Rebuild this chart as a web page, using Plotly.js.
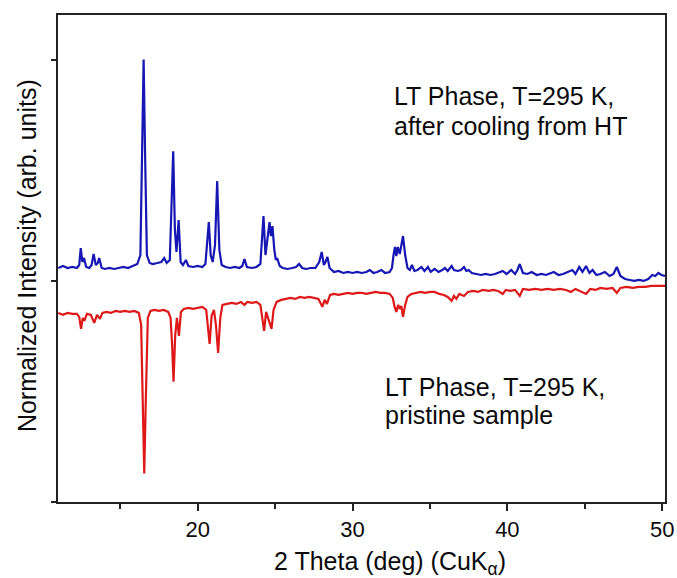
<!DOCTYPE html>
<html>
<head>
<meta charset="utf-8">
<script src="https://cdn.plot.ly/plotly-3.0.1.min.js"></script>
<style>html,body{margin:0;padding:0;background:#fff;}#chart{width:677px;height:578px;}</style>
</head>
<body>
<div id="chart"></div>
<script>
// 2 Theta (deg) sample points and intensities (arb. units)
const blueTheta = [11.0,11.3,11.6,11.9,12.2,12.35,12.45,12.55,12.66,12.8,13.0,13.15,13.28,13.42,13.55,13.64,13.8,14.0,14.3,14.6,14.9,15.2,15.5,15.8,16.1,16.3,16.42,16.51,16.6,16.72,16.9,17.1,17.4,17.65,17.84,18.0,18.2,18.33,18.42,18.53,18.63,18.77,18.9,19.05,19.24,19.4,19.7,20.0,20.3,20.5,20.62,20.72,20.84,20.97,21.12,21.26,21.4,21.55,21.8,22.1,22.4,22.7,22.88,23.02,23.18,23.5,23.8,24.05,24.15,24.25,24.38,24.5,24.64,24.73,24.83,24.95,25.05,25.13,25.3,25.5,25.8,26.1,26.35,26.55,26.75,27.0,27.3,27.6,27.85,28.01,28.15,28.25,28.38,28.52,28.8,29.1,29.4,29.7,30.0,30.3,30.6,30.9,31.11,31.35,31.6,31.86,32.1,32.4,32.55,32.65,32.74,32.83,32.92,33.05,33.16,33.26,33.4,33.55,33.7,33.84,34.0,34.2,34.45,34.65,34.87,35.05,35.3,35.55,35.8,35.97,36.15,36.3,36.4,36.55,36.8,37.0,37.2,37.35,37.5,37.7,38.0,38.3,38.6,38.9,39.2,39.5,39.7,39.95,40.25,40.5,40.65,40.8,41.0,41.3,41.57,41.9,42.2,42.5,42.8,43.0,43.3,43.6,43.9,44.2,44.4,44.64,44.85,45.08,45.3,45.5,45.75,46.0,46.3,46.6,46.85,47.07,47.3,47.6,47.9,48.2,48.5,48.8,49.1,49.35,49.55,49.75,49.95,50.18];
const blueIntensity = [13,15,13,14,13,16,33,19,23,14,13,16,27,16,18,23,13,12,13,12,13,14,13,15,17,26,131,222,131,26,18,17,18,19,23,18,21,81,130,51,29,61,19,16,21,15,14,15,14,17,41,59,26,19,36,100,31,16,14,13,14,13,15,22,14,13,14,17,41,65,26,43,59,45,55,31,21,23,15,13,12,13,14,17,13,12,13,13,19,29,16,19,24,13,9,10,8,9,8,9,8,9,11,8,9,11,8,9,13,26,34,25,34,27,36,45,26,13,11,16,10,11,14,10,14,9,12,9,11,13,10,13,15,11,10,11,14,10,11,8,7,6,7,6,7,9,10,7,11,7,11,17,8,7,9,6,7,6,8,9,6,7,9,11,7,14,9,15,8,11,6,7,9,5,7,14,5,2,1,0,1,0,2,6,5,8,6,5];

const redTheta = [11.0,11.3,11.6,11.9,12.2,12.35,12.47,12.58,12.68,12.85,13.1,13.32,13.5,13.69,13.85,14.1,14.4,14.7,15.0,15.3,15.6,15.9,16.2,16.35,16.45,16.55,16.65,16.78,16.95,17.2,17.5,17.8,18.1,18.25,18.35,18.44,18.55,18.66,18.79,18.92,19.1,19.4,19.7,20.0,20.3,20.55,20.66,20.77,20.9,21.05,21.18,21.32,21.46,21.6,21.9,22.2,22.5,22.8,23.02,23.2,23.5,23.8,24.05,24.17,24.29,24.42,24.6,24.77,24.9,25.1,25.4,25.7,26.0,26.3,26.6,26.9,27.2,27.5,27.8,27.93,28.05,28.2,28.35,28.55,28.8,29.1,29.4,29.7,30.0,30.3,30.6,30.9,31.2,31.5,31.8,32.1,32.4,32.6,32.72,32.83,32.95,33.05,33.15,33.26,33.4,33.55,33.8,34.1,34.4,34.7,35.0,35.3,35.6,35.9,36.15,36.4,36.55,36.7,36.9,37.2,37.45,37.8,38.1,38.4,38.8,39.1,39.4,39.7,39.9,40.2,40.5,40.8,41.0,41.4,41.8,42.2,42.6,43.0,43.4,43.8,44.1,44.4,44.7,45.08,45.35,45.7,46.0,46.4,46.8,47.07,47.3,47.7,48.1,48.5,48.9,49.3,49.7,50.18];
const redIntensity = [-32,-34,-32,-33,-33,-36,-48,-37,-40,-33,-34,-42,-34,-38,-32,-31,-32,-30,-31,-30,-31,-30,-32,-44,-119,-193,-119,-37,-30,-29,-30,-29,-31,-37,-64,-101,-54,-37,-55,-31,-28,-27,-28,-27,-26,-29,-49,-63,-35,-29,-44,-72,-37,-24,-23,-22,-23,-21,-24,-21,-22,-21,-24,-37,-50,-31,-39,-48,-29,-21,-19,-18,-17,-18,-16,-17,-16,-17,-18,-22,-26,-19,-23,-14,-13,-14,-13,-12,-13,-12,-12,-13,-12,-11,-12,-12,-13,-17,-26,-31,-24,-28,-25,-36,-24,-16,-13,-12,-11,-12,-11,-11,-13,-14,-16,-20,-15,-18,-13,-15,-11,-10,-11,-9,-10,-9,-10,-13,-9,-10,-9,-15,-8,-9,-8,-9,-8,-9,-8,-9,-11,-8,-10,-13,-8,-9,-7,-8,-7,-12,-7,-6,-7,-6,-6,-5,-5,-5];

const xTickVals = [20,30,40,50];
const xTickText = ['20','30','40','50'];
const xMinorTicks = [15,25,35,45];
const labelTop = ['LT Phase, T=295 K,', 'after cooling from HT'];
const labelBottom = ['LT Phase, T=295 K,', 'pristine sample'];

const FONT = 'Liberation Sans, Arial, sans-serif';

const traces = [
  {x: blueTheta, y: blueIntensity, type: 'scatter', mode: 'lines',
   line: {color: '#1616b4', width: 2.2}, hoverinfo: 'skip', showlegend: false},
  {x: redTheta, y: redIntensity, type: 'scatter', mode: 'lines',
   line: {color: '#de1818', width: 2.2}, hoverinfo: 'skip', showlegend: false}
];

const ann = [];
function addText(t, x, y, opts) {
  ann.push(Object.assign({text: t, xref: 'paper', yref: 'paper', x: x, y: y,
    xanchor: 'left', yanchor: 'middle', showarrow: false,
    font: {family: FONT, size: 25, color: '#0a0a0a'}}, opts || {}));
}
addText(labelTop[0], 0.550, 0.834);
addText(labelTop[1], 0.550, 0.772);
addText(labelBottom[0], 0.536, 0.237);
addText(labelBottom[1], 0.536, 0.179);
// axis titles
addText('2 Theta (deg) (CuK<sub>α</sub>)', 0.547, -0.125, {xanchor: 'center', yanchor: 'middle', font: {family: FONT, size: 25, color: '#0a0a0a'}});
addText('Normalized Intensity (arb. units)', -0.051, 0.505, {xanchor: 'center', yanchor: 'middle', textangle: -90, font: {family: FONT, size: 25, color: '#0a0a0a'}});

const layout = {
  width: 677, height: 578,
  margin: {l: 58, r: 12, t: 15, b: 76},
  paper_bgcolor: '#fff', plot_bgcolor: '#fff',
  xaxis: {
    range: [10.98, 50.18], tickvals: xTickVals, ticktext: xTickText,
    ticks: 'outside', ticklen: 7, tickwidth: 2, tickcolor: '#222',
    minor: {tickvals: xMinorTicks, ticks: 'outside', ticklen: 5, tickwidth: 2, tickcolor: '#222'},
    showline: true, linewidth: 2, linecolor: '#222', mirror: true,
    showgrid: false, zeroline: false,
    tickfont: {family: FONT, size: 22, color: '#0a0a0a'}
  },
  yaxis: {
    range: [-221.5, 266.5], tickvals: [-221.5, 0, 221.5], showticklabels: false,
    ticks: 'outside', ticklen: 5, tickwidth: 2, tickcolor: '#222',
    showline: true, linewidth: 2, linecolor: '#222', mirror: true,
    showgrid: false, zeroline: false
  },
  annotations: ann
};

Plotly.newPlot('chart', traces, layout, {displayModeBar: false, staticPlot: true});
</script>
</body>
</html>
